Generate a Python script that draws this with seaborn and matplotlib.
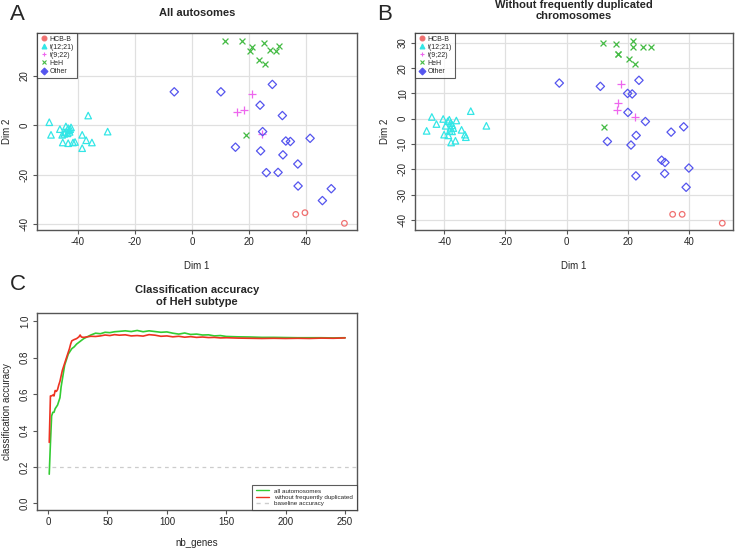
import pandas as pd
import seaborn as sns
import matplotlib.pyplot as plt
from matplotlib.lines import Line2D

# panel A: all autosomes
a_hcb_x = [36.3, 39.5, 53.3]
a_hcb_y = [-36.1, -35.4, -39.7]
a_t1221_x = [-49.9, -49.3, -46.2, -45.4, -44.4, -44.1, -43.3, -43.0, -42.6, -42.8, -43.5, -42.3,
             -45.2, -43.3, -41.6, -40.9, -38.4, -37.0, -35.0, -38.4, -36.3, -29.5, -44.7]
a_t1221_y = [1.2, -3.9, -1.6, -3.9, -2.8, -0.5, -1.2, -2.0, -1.6, -2.7, -3.3, -0.9,
             -7.0, -7.3, -7.0, -6.8, -3.9, -6.1, -7.0, -9.3, 3.9, -2.6, -3.5]
a_t922_x = [21.1, 15.6, 18.2, 24.5]
a_t922_y = [12.7, 5.4, 6.1, -3.5]
a_heh_x = [11.7, 17.6, 21.1, 20.4, 25.1, 27.3, 30.4, 29.4, 23.4, 25.5, 18.8]
a_heh_y = [33.9, 33.9, 31.5, 29.9, 33.2, 30.5, 31.9, 29.9, 26.2, 24.6, -3.9]
a_other_x = [-6.2, 10.1, 28.1, 23.8, 31.6, 24.7, 15.2, 41.3, 32.8, 34.4, 24.0, 31.8,
             37.0, 26.0, 30.1, 37.1, 48.7, 45.6]
a_other_y = [13.5, 13.5, 16.5, 8.1, 3.9, -2.6, -8.9, -5.3, -6.4, -6.6, -10.4, -12.0,
             -15.7, -19.2, -19.1, -24.6, -25.7, -30.5]

# panel B: without frequently duplicated chromosomes
b_hcb_x = [34.6, 37.7, 50.8]
b_hcb_y = [-37.8, -37.8, -41.3]
b_t1221_x = [-45.7, -44.0, -42.5, -40.3, -40.0, -38.6, -39.5, -38.3, -37.8, -37.3, -37.9, -37.4,
             -37.0, -36.0, -34.3, -33.2, -32.9, -37.7, -36.3, -31.3, -26.2, -38.2, -38.8]
b_t1221_y = [-4.8, 0.7, -2.1, -0.1, -6.3, -6.6, -2.8, -0.4, -1.7, -2.6, -3.6, -5.0,
             -3.7, -0.7, -4.4, -6.3, -7.3, -9.4, -8.7, 3.0, -2.8, -4.8, -1.0]
b_t922_x = [17.9, 16.8, 16.4, 22.3]
b_t922_y = [13.7, 6.2, 3.6, 0.8]
b_heh_x = [11.8, 16.2, 21.6, 21.7, 25.0, 27.6, 16.6, 16.9, 20.2, 22.2, 12.3]
b_heh_y = [29.9, 29.6, 30.9, 28.4, 28.3, 28.3, 25.6, 25.6, 23.5, 21.7, -3.3]
b_other_x = [-2.4, 11.0, 23.6, 19.9, 21.4, 20.0, 25.7, 38.2, 34.1, 22.7, 13.3, 21.0,
             31.0, 32.1, 32.0, 22.6, 39.9, 39.0]
b_other_y = [14.1, 12.8, 15.2, 10.0, 9.8, 2.5, -1.1, -3.2, -5.3, -6.6, -9.0, -10.4,
             -16.4, -17.3, -21.7, -22.6, -19.5, -27.1]

groups = ["HCB-B", "t(12;21)", "t(9;22)", "HeH", "Other"]

# panel C: classification accuracy
nb_genes = [1, 2, 3, 4, 5, 6, 7, 8, 9, 10, 11, 12, 13, 14, 15, 16, 17, 18, 19, 20, 22, 24, 26, 27,
            28, 30, 33, 36, 40, 44, 48, 52, 56, 60, 65, 70, 75, 80, 85, 90, 95, 100, 105, 110,
            115, 120, 125, 130, 135, 140, 145, 150, 160, 170, 180, 190, 200, 210, 220, 230, 240, 250]
acc_all = [0.16, 0.33, 0.48, 0.50, 0.50, 0.52, 0.53, 0.54, 0.56, 0.58, 0.64, 0.68, 0.72, 0.76,
           0.78, 0.80, 0.82, 0.83, 0.84, 0.85, 0.86, 0.875, 0.885, 0.89, 0.895, 0.905, 0.915,
           0.925, 0.935, 0.932, 0.94, 0.938, 0.943, 0.945, 0.948, 0.944, 0.95, 0.943, 0.948,
           0.944, 0.94, 0.942, 0.935, 0.93, 0.936, 0.928, 0.93, 0.925, 0.926, 0.92, 0.922,
           0.917, 0.915, 0.914, 0.912, 0.912, 0.911, 0.91, 0.91, 0.91, 0.909, 0.91]
acc_wo_dup = [0.335, 0.59, 0.59, 0.595, 0.59, 0.62, 0.615, 0.625, 0.65, 0.67, 0.70, 0.73, 0.75,
              0.77, 0.79, 0.81, 0.83, 0.85, 0.875, 0.893, 0.90, 0.905, 0.915, 0.925, 0.914,
              0.912, 0.915, 0.918, 0.917, 0.92, 0.925, 0.922, 0.927, 0.924, 0.926, 0.92, 0.922,
              0.919, 0.927, 0.924, 0.918, 0.92, 0.915, 0.918, 0.913, 0.916, 0.912, 0.914, 0.911,
              0.912, 0.909, 0.91, 0.908, 0.907, 0.906, 0.907, 0.906, 0.907, 0.906, 0.908,
              0.907, 0.909]
baseline = 0.2


def build(prefix):
    rows = []
    for g, key in zip(groups, ["hcb", "t1221", "t922", "heh", "other"]):
        xs = globals()[f"{prefix}_{key}_x"]
        ys = globals()[f"{prefix}_{key}_y"]
        for x, y in zip(xs, ys):
            rows.append({"Dim 1": x, "Dim 2": y, "group": g})
    return pd.DataFrame(rows)


df_a = build("a")
df_b = build("b")

sns.set_theme(style="white")
plt.rcParams["font.family"] = ["Liberation Sans", "DejaVu Sans"]
plt.rcParams["axes.edgecolor"] = "#555555"
plt.rcParams["axes.linewidth"] = 1.0
plt.rcParams["axes.unicode_minus"] = False

palette = {"HCB-B": "#F07070", "t(12;21)": "#33E6E6", "t(9;22)": "#EE66EE",
           "HeH": "#44BB44", "Other": "#5555EE"}
markers = {"HCB-B": "o", "t(12;21)": "^", "t(9;22)": "+", "HeH": "x", "Other": "D"}
sizes = {"HCB-B": 16, "t(12;21)": 22, "t(9;22)": 30, "HeH": 18, "Other": 18}

fig = plt.figure(figsize=(7.37, 5.5), dpi=100)
W, H = 737, 550


def box(l, t, r, b):
    return [l / W, 1 - b / H, (r - l) / W, (b - t) / H]


ax_a = fig.add_axes(box(37, 33, 357, 230))
ax_b = fig.add_axes(box(415, 33, 733, 230))
ax_c = fig.add_axes(box(37, 313, 357, 510))


def scatter_panel(ax, df, xlim, ylim, yticks, xticks):
    for g in groups:
        sub = df[df["group"] == g]
        filled = markers[g] in ("+", "x")
        sns.scatterplot(data=sub, x="Dim 1", y="Dim 2", ax=ax, marker=markers[g],
                        s=sizes[g], linewidth=0.9,
                        color=palette[g] if filled else "none",
                        edgecolor=None if filled else palette[g],
                        legend=False)
    ax.set_xlim(xlim)
    ax.set_ylim(ylim)
    ax.set_xticks(xticks)
    ax.set_yticks(yticks)
    ax.grid(True, color="#e0e0e0", linewidth=0.9)
    ax.set_axisbelow(True)
    ax.tick_params(axis="both", direction="out", length=3, width=0.8, color="#555555",
                   labelsize=7, bottom=True, left=True, pad=2)
    plt.setp(ax.get_yticklabels(), rotation=90, va="center")
    ax.set_xlabel("Dim 1", fontsize=7, labelpad=10)
    ax.set_ylabel("Dim 2", fontsize=7, labelpad=6)
    handles = []
    for g in groups:
        handles.append(Line2D([], [], linestyle="none", marker=markers[g], markersize=3.5,
                              markeredgewidth=0.8, markeredgecolor=palette[g],
                              markerfacecolor=palette[g]))
    leg = ax.legend(handles, groups, loc="upper left", fontsize=5, frameon=True,
                    fancybox=False, borderaxespad=0, handletextpad=0.2, labelspacing=0.15,
                    borderpad=0.4, handlelength=1.2)
    leg.get_frame().set_edgecolor("#333333")
    leg.get_frame().set_linewidth(0.8)


scatter_panel(ax_a, df_a, (-54.2, 57.7), (-42.4, 37.3), [-40, -20, 0, 20], [-40, -20, 0, 20, 40])
scatter_panel(ax_b, df_b, (-49.5, 54.3), (-44.0, 33.9),
              [-40, -30, -20, -10, 0, 10, 20, 30], [-40, -20, 0, 20, 40])
ax_a.set_title("All autosomes", fontsize=8, fontweight="bold", pad=12)
ax_b.set_title("Without frequently duplicated\nchromosomes", fontsize=8, fontweight="bold", pad=10)

# panel C
sns.lineplot(x=nb_genes, y=acc_all, ax=ax_c, color="#33CC33", linewidth=1.2)
sns.lineplot(x=nb_genes, y=acc_wo_dup, ax=ax_c, color="#EE3322", linewidth=1.2)
ax_c.axhline(baseline, color="#cccccc", linestyle=(0, (3, 3)), linewidth=0.9)
ax_c.set_xlim(-9.3, 260)
ax_c.set_ylim(-0.037, 1.046)
ax_c.set_xticks([0, 50, 100, 150, 200, 250])
ax_c.set_yticks([0.0, 0.2, 0.4, 0.6, 0.8, 1.0])
ax_c.set_yticklabels(["0.0", "0.2", "0.4", "0.6", "0.8", "1.0"])
ax_c.tick_params(axis="both", direction="out", length=3, width=0.8, color="#555555",
                 labelsize=7, bottom=True, left=True, pad=2)
plt.setp(ax_c.get_yticklabels(), rotation=90, va="center")
ax_c.set_xlabel("nb_genes", fontsize=7, labelpad=8)
ax_c.set_ylabel("classification accuracy", fontsize=7, labelpad=6)
ax_c.set_title("Classification accuracy\nof HeH subtype", fontsize=8, fontweight="bold", pad=6)
c_handles = [Line2D([], [], color="#33CC33", linewidth=1),
             Line2D([], [], color="#EE3322", linewidth=1),
             Line2D([], [], color="#cccccc", linewidth=1, linestyle=(0, (3, 3)))]
leg = ax_c.legend(c_handles, ["all automosomes", "without frequently duplicated", "baseline accuracy"],
                  loc="lower right", fontsize=4.5, frameon=True, fancybox=False, borderaxespad=0,
                  handlelength=2.2, labelspacing=0.15, borderpad=0.6)
leg.get_frame().set_edgecolor("#333333")
leg.get_frame().set_linewidth(0.8)

fig.text(10 / W, 1 - 14 / H, "A", fontsize=16, va="center")
fig.text(377 / W, 1 - 14 / H, "B", fontsize=16, va="center")
fig.text(10 / W, 1 - 285 / H, "C", fontsize=16, va="center")

fig.savefig("out.png", dpi=100)
